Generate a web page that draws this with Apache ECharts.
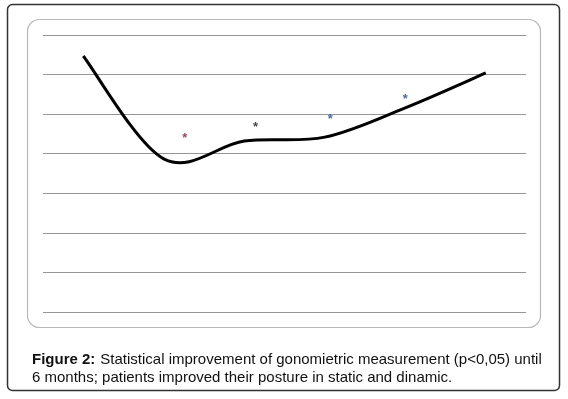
<!DOCTYPE html>
<html>
<head>
<meta charset="utf-8">
<script src="https://cdn.jsdelivr.net/npm/echarts@6/dist/echarts.min.js"></script>
<style>html,body{margin:0;padding:0;background:#fff}#c{width:568px;height:399px}</style>
</head>
<body>
<div id="c"></div>
<script>
var categories = ['0', '1', '2', '3', '4', '5'];
var lineValues = [6.47, 3.87, 4.32, 4.42, 5.16, 6.04];
var starX = [1.26, 2.14, 3.07, 4.0];
var starY = [4.45, 4.75, 4.93, 5.46];
var starColors = ['#7a1535', '#111111', '#1a4a80', '#1a4a80'];
var yTicks = [0, 1, 2, 3, 4, 5, 6, 7];

var chart = echarts.init(document.getElementById('c'));
var starData = starX.map(function (x, i) {
  return { value: [x, starY[i]], itemStyle: { color: starColors[i] }, label: { color: starColors[i] } };
});

function renderCurve(params, api) {
  if (params.dataIndex !== 0) return;
  var pts = lineValues.map(function (v, i) { return api.coord([i, v]); });
  var n = pts.length;
  var d = 'M' + pts[0][0] + ' ' + pts[0][1];
  for (var i = 0; i < n - 1; i++) {
    var p0 = pts[Math.max(i - 1, 0)], p1 = pts[i], p2 = pts[i + 1], p3 = pts[Math.min(i + 2, n - 1)];
    var c1x = p1[0] + (p2[0] - p0[0]) / 6, c1y = p1[1] + (p2[1] - p0[1]) / 6;
    var c2x = p2[0] - (p3[0] - p1[0]) / 6, c2y = p2[1] - (p3[1] - p1[1]) / 6;
    d += ' C' + c1x + ' ' + c1y + ' ' + c2x + ' ' + c2y + ' ' + p2[0] + ' ' + p2[1];
  }
  return {
    type: 'path',
    shape: { pathData: d },
    style: { fill: null, stroke: '#000', lineWidth: 3, lineJoin: 'round', lineCap: 'butt' }
  };
}

chart.setOption({
  animation: false,
  grid: { left: 43, right: 42, top: 35, bottom: 87, containLabel: false },
  title: {
    left: 27, top: 346,
    text: '{b|Figure 2:} {n|Statistical improvement of gonomietric measurement (p<0,05) until}\n{n|6 months; patients improved their posture in static and dinamic.}',
    textStyle: {
      fontWeight: 'normal',
      rich: {
        b: { fontFamily: 'Liberation Sans, Arial, sans-serif', fontSize: 15, fontWeight: 'bold', color: '#111', lineHeight: 18 },
        n: { fontFamily: 'Liberation Sans, Arial, sans-serif', fontSize: 15, fontWeight: 'normal', color: '#111', lineHeight: 18 }
      }
    }
  },
  graphic: [
    { type: 'rect', shape: { x: 7.5, y: 4.5, width: 552, height: 386, r: 5 }, style: { fill: 'none', stroke: '#333', lineWidth: 1.5 }, z: -10 },
    { type: 'rect', shape: { x: 27.5, y: 19.5, width: 513, height: 308, r: 12 }, style: { fill: 'none', stroke: '#b8b8b8', lineWidth: 1.2 }, z: -10 }
  ],
  xAxis: [
    { type: 'category', data: categories, boundaryGap: true, axisLine: { show: false }, axisTick: { show: false }, axisLabel: { show: false } },
    { type: 'value', min: -0.5, max: 5.5, show: false }
  ],
  yAxis: {
    type: 'value', min: yTicks[0], max: yTicks[yTicks.length - 1], interval: 1,
    axisLabel: { show: false }, axisLine: { show: false }, axisTick: { show: false },
    splitLine: { show: true, lineStyle: { color: '#969696', width: 1 } }
  },
  series: [
    { type: 'custom', xAxisIndex: 0, data: lineValues.map(function (v, i) { return [i, v]; }), renderItem: renderCurve },
    { type: 'scatter', xAxisIndex: 1, data: starData, symbolSize: 0,
      label: { show: true, position: 'inside', formatter: '*', fontSize: 13, fontWeight: 'bold', fontFamily: 'Liberation Sans, Arial, sans-serif', offset: [0, 3] } }
  ]
});
</script>
</body>
</html>
